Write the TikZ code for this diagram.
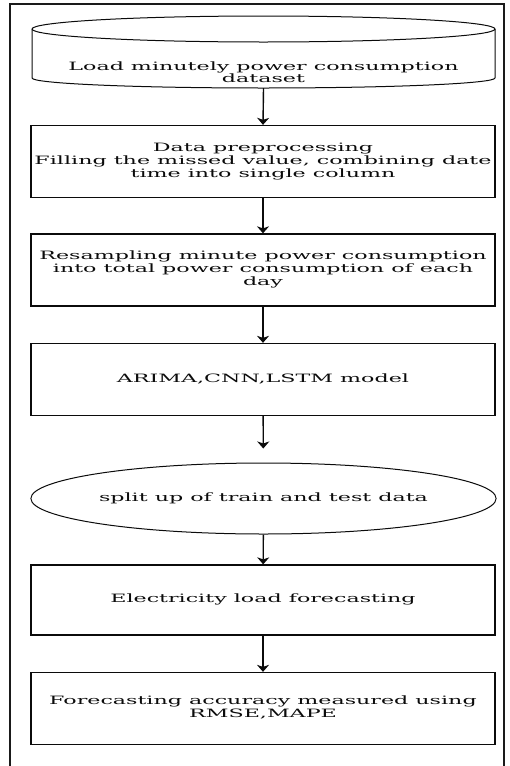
\documentclass[tikz,border=0pt]{standalone}
\usepackage{fontspec}
\setmainfont{DejaVu Serif}
\usepackage{graphicx}
\usepackage{tikz}
\usetikzlibrary{arrows.meta,positioning,shapes.geometric}
\definecolor{fcink}{HTML}{0B0B0B}
\definecolor{fcframe}{HTML}{1A1A1A}
\newcommand{\widetxt}[1]{\scalebox{1.93}[1]{\begin{tabular}{@{}c@{}}#1\end{tabular}}}
\tikzset{
  stepbox/.style={draw=fcink,line width=1.3pt,minimum width=464pt,minimum height=72pt,
              inner sep=0pt,font=\fontsize{11.5}{13}\selectfont,text=fcink},
  splitell/.style={ellipse,draw=fcink,line width=1pt,minimum width=463pt,minimum height=71pt,
              inner sep=0pt,font=\fontsize{11.5}{13}\selectfont,text=fcink},
  cylhold/.style={minimum width=463pt,minimum height=72pt,inner sep=0pt},
  cylline/.style={draw=fcink,line width=1pt},
  flow/.style={-{Stealth[length=7pt,width=12pt,inset=2pt]},line width=1.4pt,draw=fcink},
}

\begin{document}
\begin{tikzpicture}[x=1pt,y=-1pt,
  frame/.style={draw=fcframe,line width=1.4pt},
  plain/.style={inner sep=0pt,font=\fontsize{11.5}{12.5}\selectfont,text=fcink}]
  \useasboundingbox (0,0) rectangle (510,766);

  % ---- outer frame ----
  \draw[frame] (10,4) rectangle (504,790);

  % ---- data source ----
  \node[cylhold] (load) at (263.5,52) {};
  \draw[cylline] (263.5,29) ellipse [x radius=231.5,y radius=13];
  \draw[cylline] (32,29) -- (32,78) arc[start angle=180,end angle=0,x radius=231.5,y radius=10] -- (495,29);
  \node[plain] (loadtxt) at (263.5,74) {\widetxt{Load minutely power consumption\\dataset}};

  % ---- pipeline ----
  \node[stepbox] (prep) at (263,161.5) {\widetxt{Data preprocessing\\Filling the missed value, combining date\\time into single column}};
  \node[stepbox] (resamp) at (263,270) {\widetxt{Resampling minute power consumption\\into total power consumption of each\\day}};
  \node[stepbox] (model) at (263,379.5) {\widetxt{ARIMA,CNN,LSTM model}};
  \node[splitell] (split) at (263.5,498.5) {\widetxt{split up of train and test data}};
  \node[stepbox,minimum height=70pt] (forecast) at (263,600) {\widetxt{Electricity load forecasting}};
  \node[stepbox] (accuracy) at (263,708.5) {\widetxt{Forecasting accuracy measured using\\RMSE,MAPE}};

  % ---- flows ----
  \draw[flow] (load.south) -- (prep.north);
  \draw[flow] (prep) -- (resamp);
  \draw[flow] (resamp) -- (model);
  \draw[flow,shorten >=14pt] (model) -- (split);
  \draw[flow] (split) -- (forecast);
  \draw[flow] (forecast) -- (accuracy);
\end{tikzpicture}
\end{document}
